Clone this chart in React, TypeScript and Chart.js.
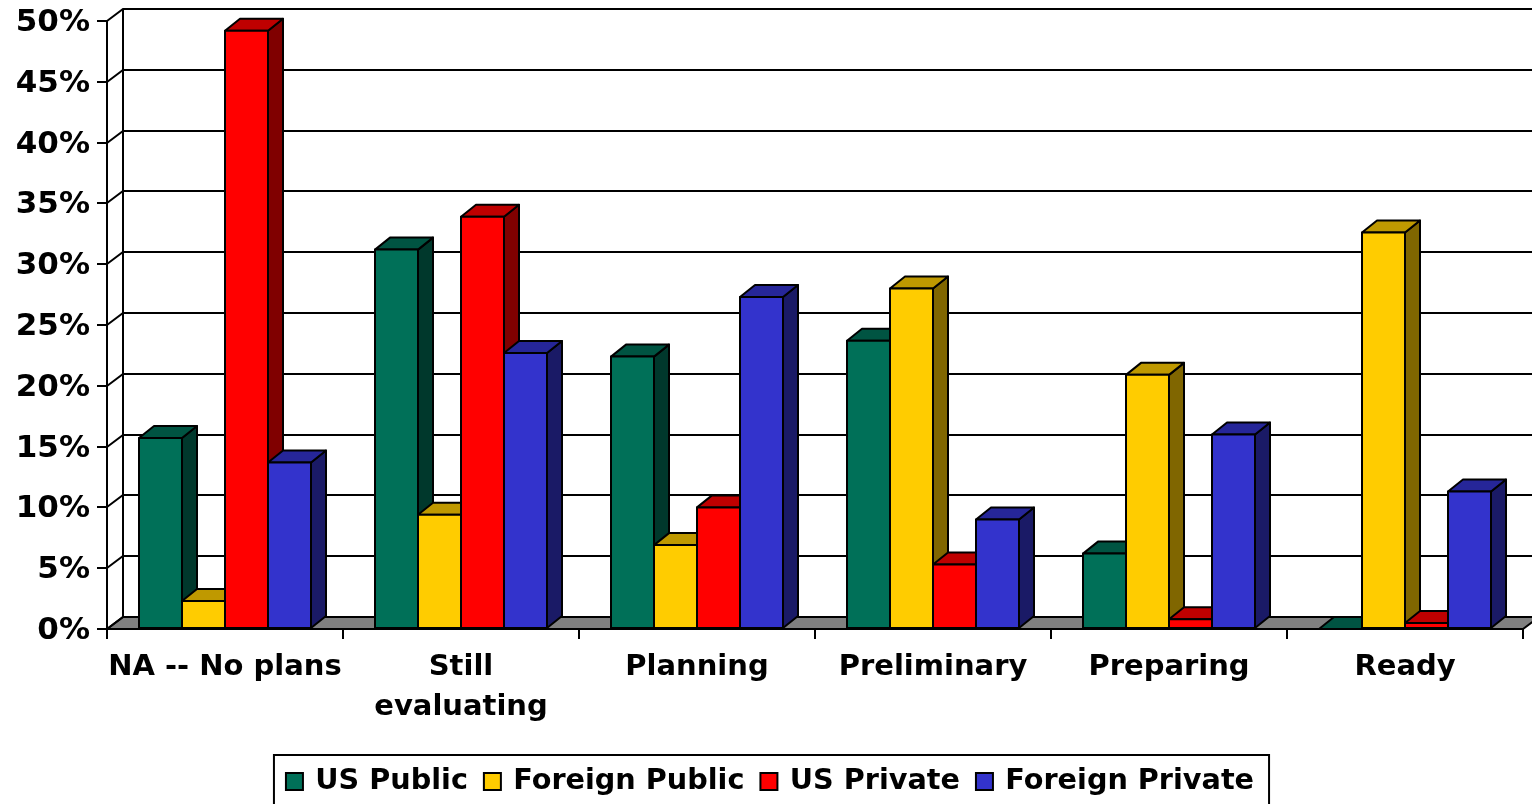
import React, { useEffect, useRef } from "react";
import { Chart, registerables } from "chart.js";

Chart.register(...registerables);

const categories: (string | string[])[] = ["NA -- No plans", ["Still", "evaluating"], "Planning", "Preliminary", "Preparing", "Ready"];
const usPublic = [15.7, 31.2, 22.4, 23.7, 6.2, 0];
const foreignPublic = [2.3, 9.4, 6.9, 28.0, 20.9, 32.6];
const usPrivate = [49.2, 33.9, 10.0, 5.3, 0.8, 0.5];
const foreignPrivate = [13.7, 22.7, 27.3, 9.0, 16.0, 11.3];

const seriesNames = ["US Public", "Foreign Public", "US Private", "Foreign Private"];
const frontColors = ["#007058", "#FFCC00", "#FF0000", "#3333CC"];
const topColors = ["#005442", "#BF9900", "#BF0000", "#262699"];
const sideColors = ["#00382C", "#806600", "#800000", "#1A1A66"];
const floorColor = "#808080";

const FONT = { family: "'DejaVu Sans'", weight: "bold" as const, size: 29 };
const LEGEND_FONT = { ...FONT, size: 28.7 };
const Y_FONT = { ...FONT, size: 31 };
const WALL_DX = 16;
const WALL_DY = 12;
const BAR_DX = 15;
const BAR_DY = 12;
const LINE = 2;

function poly(ctx: CanvasRenderingContext2D, pts: number[][], fill: string) {
  ctx.beginPath();
  pts.forEach((p, i) => (i ? ctx.lineTo(p[0], p[1]) : ctx.moveTo(p[0], p[1])));
  ctx.closePath();
  ctx.fillStyle = fill;
  ctx.fill();
  ctx.stroke();
}

const box3d = {
  id: "box3d",
  afterLayout(chart: any) {
    const lg = chart.legend;
    if (lg) {
      const h = lg.height;
      lg.left += 9;
      lg.right += 9;
      lg.top = 750;
      lg.bottom = 750 + h;
    }
  },
  beforeDatasetsDraw(chart: any) {
    const { ctx, chartArea: a, scales } = chart;
    const y = scales.y;
    ctx.save();
    ctx.strokeStyle = "#000";
    ctx.lineWidth = LINE;
    poly(
      ctx,
      [
        [a.left, a.bottom],
        [a.left + WALL_DX, a.bottom - WALL_DY],
        [a.right + WALL_DX, a.bottom - WALL_DY],
        [a.right, a.bottom],
      ],
      floorColor
    );
    y.ticks.forEach((t: any) => {
      const py = Math.round(y.getPixelForValue(t.value));
      ctx.beginPath();
      ctx.moveTo(a.left, py);
      ctx.lineTo(a.left + WALL_DX, py - WALL_DY);
      ctx.lineTo(chart.width + 20, py - WALL_DY);
      ctx.stroke();
    });
    ctx.beginPath();
    ctx.moveTo(a.left + WALL_DX, a.top - WALL_DY);
    ctx.lineTo(a.left + WALL_DX, a.bottom - WALL_DY);
    ctx.stroke();
    ctx.restore();
  },
  afterDatasetsDraw(chart: any) {
    const { ctx } = chart;
    ctx.save();
    ctx.strokeStyle = "#000";
    ctx.lineWidth = LINE;
    ctx.lineJoin = "round";
    const n = chart.data.labels.length;
    for (let i = 0; i < n; i++) {
      chart.data.datasets.forEach((_d: any, di: number) => {
        const bar = chart.getDatasetMeta(di).data[i];
        const { x, y, base, width } = bar.getProps(["x", "y", "base", "width"], true);
        const l = x - width / 2;
        const r = x + width / 2;
        poly(ctx, [[r, base], [r + BAR_DX, base - BAR_DY], [r + BAR_DX, y - BAR_DY], [r, y]], sideColors[di]);
        poly(ctx, [[l, y], [l + BAR_DX, y - BAR_DY], [r + BAR_DX, y - BAR_DY], [r, y]], topColors[di]);
        bar.draw(ctx);
        ctx.strokeRect(l, y, width, base - y);
      });
    }
    ctx.restore();
  },
  afterDraw(chart: any) {
    const { ctx, legend } = chart;
    const boxes = legend.legendHitBoxes;
    ctx.save();
    ctx.strokeStyle = "#000";
    ctx.lineWidth = LINE;
    boxes.forEach((b: any, i: number) => {
      ctx.fillStyle = "#fff";
      ctx.fillRect(b.left - 2, 771, 22, 21);
      ctx.fillStyle = frontColors[i];
      ctx.fillRect(b.left - 1, 773, 17, 17);
      ctx.strokeRect(b.left - 1, 773, 17, 17);
    });
    const last = boxes[boxes.length - 1];
    ctx.strokeRect(boxes[0].left - 13, 755, last.left + last.width + 15 - boxes[0].left + 13, 60);
    ctx.restore();
  },
};

export default function App() {
  const ref = useRef<HTMLCanvasElement>(null);
  useEffect(() => {
    document.body.style.margin = "0";
    const series = [usPublic, foreignPublic, usPrivate, foreignPrivate];
    const chart = new Chart(ref.current!, {
      type: "bar",
      data: {
        labels: categories as any,
        datasets: series.map((data, i) => ({
          label: seriesNames[i],
          data,
          backgroundColor: frontColors[i],
          borderColor: "#000",
          borderWidth: 0,
          barPercentage: 1,
          categoryPercentage: 172 / 236,
        })),
      },
      options: {
        animation: false,
        responsive: false,
        layout: { padding: { left: 0, right: 9, top: 21, bottom: 0 } },
        plugins: {
          tooltip: { enabled: false },
          title: { display: false },
          legend: {
            position: "bottom",
            labels: { boxWidth: 14, boxHeight: 14, padding: 17, color: "#000", font: LEGEND_FONT },
          },
        },
        scales: {
          x: {
            afterFit: (s: any) => {
              s.height = 175 - (s.chart.legend?.height ?? 0);
            },
            grid: { drawOnChartArea: false, drawTicks: true, tickLength: 10, color: "#000", lineWidth: LINE },
            border: { display: true, color: "#000", width: LINE },
            ticks: {
              autoSkip: false,
              maxRotation: 0,
              minRotation: 0,
              padding: 8,
              color: "#000",
              font: { ...FONT, lineHeight: 1.38 },
            },
          },
          y: {
            min: 0,
            max: 50,
            afterFit: (s: any) => {
              s.width = 107;
              s.paddingTop = 0;
              s.paddingBottom = 0;
            },
            grid: { drawOnChartArea: false, drawTicks: true, tickLength: 10, color: "#000", lineWidth: LINE },
            border: { display: true, color: "#000", width: LINE },
            ticks: {
              stepSize: 5,
              padding: 7,
              labelOffset: 2,
              color: "#000",
              font: Y_FONT,
              callback: (v: any) => `${v}%`,
            },
          },
        },
      },
      plugins: [box3d as any],
    } as any);
    return () => chart.destroy();
  }, []);
  return <canvas ref={ref} width={1532} height={804} style={{ display: "block", position: "absolute", left: 0, top: 0 }} />;
}
